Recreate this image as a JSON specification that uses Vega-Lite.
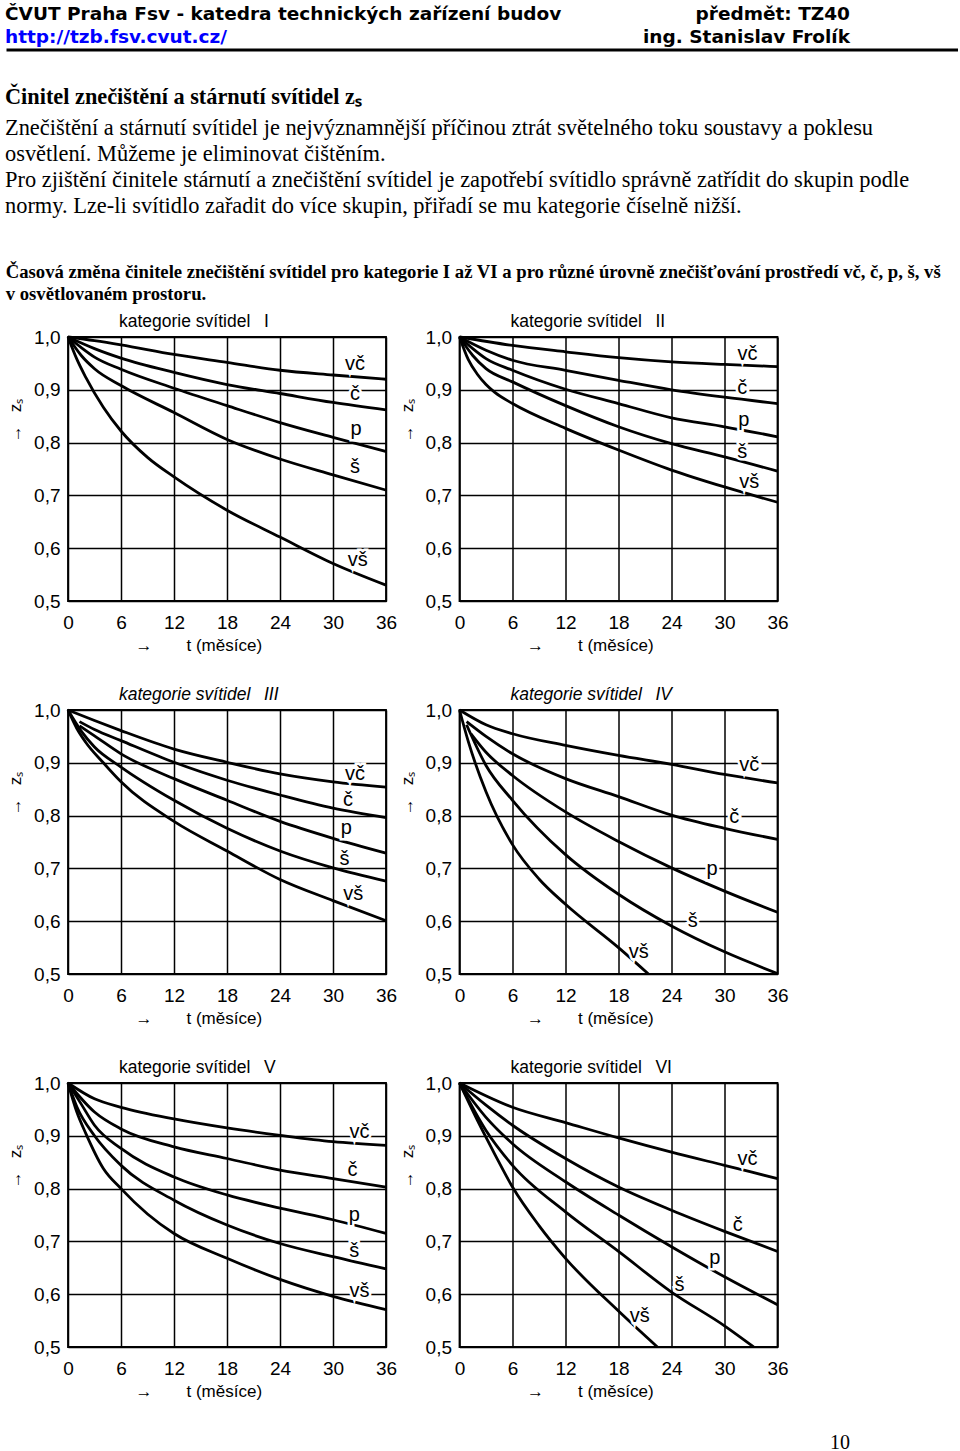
{
  "$schema": "https://vega.github.io/schema/vega-lite/v6.json",
  "background": "white",
  "padding": {"left": 5, "top": 0, "right": 0, "bottom": 0},
  "spacing": 34,
  "align": "none",
  "config": {
    "font": "Liberation Sans",
    "view": {"stroke": "black", "strokeWidth": 1.8},
    "axis": {"grid": true, "gridColor": "black", "gridWidth": 1.5, "gridOpacity": 1, "ticks": false, "tickSize": 0, "domain": false, "labelColor": "black", "labelFontSize": 19, "labelFont": "Liberation Sans", "titleColor": "black", "titleFontSize": 17, "titleFont": "Liberation Sans", "titleFontWeight": "normal", "labelFlush": false, "labelOverlap": false},
    "axisX": {"labelPadding": 12.5, "titlePadding": 5, "titleAnchor": "start", "titleAlign": "left", "titleX": 67},
    "axisY": {"labelPadding": 8, "titlePadding": 9, "titleY": 83}
  },
  "datasets": {
    "banner": [
      {"line": 1, "side": "left", "kind": "plain", "text": "ČVUT Praha Fsv - katedra technických zařízení budov"},
      {"line": 2, "side": "left", "kind": "url", "text": "http://tzb.fsv.cvut.cz/"},
      {"line": 1, "side": "right", "kind": "plain", "text": "předmět: TZ40"},
      {"line": 2, "side": "right", "kind": "plain", "text": "ing. Stanislav Frolík"}
    ],
    "body": [
      {"line": 1, "side": "left", "text": "Znečištění a stárnutí svítidel je nejvýznamnější příčinou ztrát světelného toku soustavy a poklesu"},
      {"line": 2, "side": "left", "text": "osvětlení. Můžeme je eliminovat čištěním."},
      {"line": 3, "side": "left", "text": "Pro zjištění činitele stárnutí a znečištění svítidel je zapotřebí svítidlo správně zatřídit do skupin podle"},
      {"line": 4, "side": "left", "text": "normy. Lze-li svítidlo zařadit do více skupin, přiřadí se mu kategorie číselně nižší."}
    ],
    "zs": [
      {"k":"I","s":"vč","kind":"curve","t":0,"z":1.0},{"k":"I","s":"vč","kind":"curve","t":3,"z":0.993},{"k":"I","s":"vč","kind":"curve","t":6,"z":0.985},{"k":"I","s":"vč","kind":"curve","t":12,"z":0.967},{"k":"I","s":"vč","kind":"curve","t":18,"z":0.952},{"k":"I","s":"vč","kind":"curve","t":24,"z":0.937},{"k":"I","s":"vč","kind":"curve","t":30,"z":0.928},{"k":"I","s":"vč","kind":"curve","t":36,"z":0.92},
      {"k":"I","s":"č","kind":"curve","t":0,"z":1.0},{"k":"I","s":"č","kind":"curve","t":3,"z":0.978},{"k":"I","s":"č","kind":"curve","t":6,"z":0.96},{"k":"I","s":"č","kind":"curve","t":12,"z":0.933},{"k":"I","s":"č","kind":"curve","t":18,"z":0.91},{"k":"I","s":"č","kind":"curve","t":24,"z":0.893},{"k":"I","s":"č","kind":"curve","t":30,"z":0.876},{"k":"I","s":"č","kind":"curve","t":36,"z":0.862},
      {"k":"I","s":"p","kind":"curve","t":0,"z":1.0},{"k":"I","s":"p","kind":"curve","t":1.5,"z":0.98},{"k":"I","s":"p","kind":"curve","t":3,"z":0.962},{"k":"I","s":"p","kind":"curve","t":6,"z":0.939},{"k":"I","s":"p","kind":"curve","t":12,"z":0.903},{"k":"I","s":"p","kind":"curve","t":18,"z":0.87},{"k":"I","s":"p","kind":"curve","t":24,"z":0.838},{"k":"I","s":"p","kind":"curve","t":30,"z":0.81},{"k":"I","s":"p","kind":"curve","t":36,"z":0.783},
      {"k":"I","s":"š","kind":"curve","t":0,"z":1.0},{"k":"I","s":"š","kind":"curve","t":1.5,"z":0.965},{"k":"I","s":"š","kind":"curve","t":3,"z":0.94},{"k":"I","s":"š","kind":"curve","t":6,"z":0.908},{"k":"I","s":"š","kind":"curve","t":12,"z":0.857},{"k":"I","s":"š","kind":"curve","t":18,"z":0.806},{"k":"I","s":"š","kind":"curve","t":24,"z":0.769},{"k":"I","s":"š","kind":"curve","t":30,"z":0.739},{"k":"I","s":"š","kind":"curve","t":36,"z":0.71},
      {"k":"I","s":"vš","kind":"curve","t":0,"z":1.0},{"k":"I","s":"vš","kind":"curve","t":1,"z":0.958},{"k":"I","s":"vš","kind":"curve","t":2,"z":0.924},{"k":"I","s":"vš","kind":"curve","t":4,"z":0.867},{"k":"I","s":"vš","kind":"curve","t":6,"z":0.822},{"k":"I","s":"vš","kind":"curve","t":9,"z":0.772},{"k":"I","s":"vš","kind":"curve","t":12,"z":0.735},{"k":"I","s":"vš","kind":"curve","t":18,"z":0.672},{"k":"I","s":"vš","kind":"curve","t":24,"z":0.621},{"k":"I","s":"vš","kind":"curve","t":30,"z":0.571},{"k":"I","s":"vš","kind":"curve","t":36,"z":0.53},
      {"k":"I","s":"vč","kind":"label","t":32.5,"z":0.948},{"k":"I","s":"č","kind":"label","t":32.5,"z":0.892},{"k":"I","s":"p","kind":"label","t":32.6,"z":0.826},{"k":"I","s":"š","kind":"label","t":32.5,"z":0.753},{"k":"I","s":"vš","kind":"label","t":32.8,"z":0.577},

      {"k":"II","s":"vč","kind":"curve","t":0,"z":1.0},{"k":"II","s":"vč","kind":"curve","t":6,"z":0.984},{"k":"II","s":"vč","kind":"curve","t":12,"z":0.972},{"k":"II","s":"vč","kind":"curve","t":18,"z":0.961},{"k":"II","s":"vč","kind":"curve","t":24,"z":0.953},{"k":"II","s":"vč","kind":"curve","t":30,"z":0.948},{"k":"II","s":"vč","kind":"curve","t":36,"z":0.944},
      {"k":"II","s":"č","kind":"curve","t":0,"z":1.0},{"k":"II","s":"č","kind":"curve","t":3,"z":0.975},{"k":"II","s":"č","kind":"curve","t":6,"z":0.956},{"k":"II","s":"č","kind":"curve","t":12,"z":0.937},{"k":"II","s":"č","kind":"curve","t":18,"z":0.918},{"k":"II","s":"č","kind":"curve","t":24,"z":0.9},{"k":"II","s":"č","kind":"curve","t":30,"z":0.886},{"k":"II","s":"č","kind":"curve","t":36,"z":0.874},
      {"k":"II","s":"p","kind":"curve","t":0,"z":1.0},{"k":"II","s":"p","kind":"curve","t":1.5,"z":0.978},{"k":"II","s":"p","kind":"curve","t":3,"z":0.959},{"k":"II","s":"p","kind":"curve","t":6,"z":0.937},{"k":"II","s":"p","kind":"curve","t":12,"z":0.901},{"k":"II","s":"p","kind":"curve","t":18,"z":0.874},{"k":"II","s":"p","kind":"curve","t":24,"z":0.847},{"k":"II","s":"p","kind":"curve","t":30,"z":0.83},{"k":"II","s":"p","kind":"curve","t":36,"z":0.811},
      {"k":"II","s":"š","kind":"curve","t":0,"z":1.0},{"k":"II","s":"š","kind":"curve","t":1.5,"z":0.965},{"k":"II","s":"š","kind":"curve","t":3,"z":0.94},{"k":"II","s":"š","kind":"curve","t":6,"z":0.915},{"k":"II","s":"š","kind":"curve","t":12,"z":0.87},{"k":"II","s":"š","kind":"curve","t":18,"z":0.83},{"k":"II","s":"š","kind":"curve","t":24,"z":0.798},{"k":"II","s":"š","kind":"curve","t":30,"z":0.773},{"k":"II","s":"š","kind":"curve","t":36,"z":0.746},
      {"k":"II","s":"vš","kind":"curve","t":0,"z":1.0},{"k":"II","s":"vš","kind":"curve","t":1,"z":0.957},{"k":"II","s":"vš","kind":"curve","t":2,"z":0.93},{"k":"II","s":"vš","kind":"curve","t":3,"z":0.91},{"k":"II","s":"vš","kind":"curve","t":4,"z":0.895},{"k":"II","s":"vš","kind":"curve","t":6,"z":0.874},{"k":"II","s":"vš","kind":"curve","t":12,"z":0.827},{"k":"II","s":"vš","kind":"curve","t":18,"z":0.786},{"k":"II","s":"vš","kind":"curve","t":24,"z":0.748},{"k":"II","s":"vš","kind":"curve","t":30,"z":0.716},{"k":"II","s":"vš","kind":"curve","t":36,"z":0.687},
      {"k":"II","s":"vč","kind":"label","t":32.6,"z":0.968},{"k":"II","s":"č","kind":"label","t":32.0,"z":0.904},{"k":"II","s":"p","kind":"label","t":32.2,"z":0.842},{"k":"II","s":"š","kind":"label","t":32.0,"z":0.782},{"k":"II","s":"vš","kind":"label","t":32.8,"z":0.726},

      {"k":"III","s":"vč","kind":"curve","t":0,"z":1.0},{"k":"III","s":"vč","kind":"curve","t":3,"z":0.98},{"k":"III","s":"vč","kind":"curve","t":6,"z":0.961},{"k":"III","s":"vč","kind":"curve","t":12,"z":0.926},{"k":"III","s":"vč","kind":"curve","t":18,"z":0.901},{"k":"III","s":"vč","kind":"curve","t":24,"z":0.879},{"k":"III","s":"vč","kind":"curve","t":30,"z":0.864},{"k":"III","s":"vč","kind":"curve","t":36,"z":0.854},
      {"k":"III","s":"č","kind":"curve","t":1.3,"z":0.978},{"k":"III","s":"č","kind":"curve","t":3,"z":0.963},{"k":"III","s":"č","kind":"curve","t":6,"z":0.942},{"k":"III","s":"č","kind":"curve","t":12,"z":0.901},{"k":"III","s":"č","kind":"curve","t":18,"z":0.867},{"k":"III","s":"č","kind":"curve","t":24,"z":0.839},{"k":"III","s":"č","kind":"curve","t":30,"z":0.814},{"k":"III","s":"č","kind":"curve","t":36,"z":0.796},
      {"k":"III","s":"p","kind":"curve","t":1.3,"z":0.97},{"k":"III","s":"p","kind":"curve","t":3,"z":0.951},{"k":"III","s":"p","kind":"curve","t":6,"z":0.917},{"k":"III","s":"p","kind":"curve","t":12,"z":0.87},{"k":"III","s":"p","kind":"curve","t":18,"z":0.829},{"k":"III","s":"p","kind":"curve","t":24,"z":0.789},{"k":"III","s":"p","kind":"curve","t":30,"z":0.757},{"k":"III","s":"p","kind":"curve","t":36,"z":0.729},
      {"k":"III","s":"š","kind":"curve","t":0,"z":1.0},{"k":"III","s":"š","kind":"curve","t":1.5,"z":0.96},{"k":"III","s":"š","kind":"curve","t":3,"z":0.93},{"k":"III","s":"š","kind":"curve","t":6,"z":0.892},{"k":"III","s":"š","kind":"curve","t":12,"z":0.829},{"k":"III","s":"š","kind":"curve","t":18,"z":0.776},{"k":"III","s":"š","kind":"curve","t":24,"z":0.733},{"k":"III","s":"š","kind":"curve","t":30,"z":0.701},{"k":"III","s":"š","kind":"curve","t":36,"z":0.676},
      {"k":"III","s":"vš","kind":"curve","t":0,"z":1.0},{"k":"III","s":"vš","kind":"curve","t":1,"z":0.965},{"k":"III","s":"vš","kind":"curve","t":2,"z":0.939},{"k":"III","s":"vš","kind":"curve","t":4,"z":0.9},{"k":"III","s":"vš","kind":"curve","t":6,"z":0.864},{"k":"III","s":"vš","kind":"curve","t":12,"z":0.789},{"k":"III","s":"vš","kind":"curve","t":18,"z":0.733},{"k":"III","s":"vš","kind":"curve","t":24,"z":0.679},{"k":"III","s":"vš","kind":"curve","t":30,"z":0.639},{"k":"III","s":"vš","kind":"curve","t":36,"z":0.601},
      {"k":"III","s":"vč","kind":"label","t":32.5,"z":0.879},{"k":"III","s":"č","kind":"label","t":31.7,"z":0.829},{"k":"III","s":"p","kind":"label","t":31.5,"z":0.776},{"k":"III","s":"š","kind":"label","t":31.3,"z":0.717},{"k":"III","s":"vš","kind":"label","t":32.3,"z":0.651},

      {"k":"IV","s":"vč","kind":"curve","t":0,"z":1.0},{"k":"IV","s":"vč","kind":"curve","t":3,"z":0.972},{"k":"IV","s":"vč","kind":"curve","t":6,"z":0.955},{"k":"IV","s":"vč","kind":"curve","t":12,"z":0.933},{"k":"IV","s":"vč","kind":"curve","t":18,"z":0.914},{"k":"IV","s":"vč","kind":"curve","t":24,"z":0.897},{"k":"IV","s":"vč","kind":"curve","t":30,"z":0.878},{"k":"IV","s":"vč","kind":"curve","t":36,"z":0.862},
      {"k":"IV","s":"č","kind":"curve","t":0.8,"z":0.978},{"k":"IV","s":"č","kind":"curve","t":3,"z":0.95},{"k":"IV","s":"č","kind":"curve","t":6,"z":0.917},{"k":"IV","s":"č","kind":"curve","t":12,"z":0.87},{"k":"IV","s":"č","kind":"curve","t":18,"z":0.836},{"k":"IV","s":"č","kind":"curve","t":24,"z":0.801},{"k":"IV","s":"č","kind":"curve","t":30,"z":0.776},{"k":"IV","s":"č","kind":"curve","t":36,"z":0.755},
      {"k":"IV","s":"p","kind":"curve","t":1.3,"z":0.955},{"k":"IV","s":"p","kind":"curve","t":3,"z":0.92},{"k":"IV","s":"p","kind":"curve","t":6,"z":0.876},{"k":"IV","s":"p","kind":"curve","t":12,"z":0.807},{"k":"IV","s":"p","kind":"curve","t":18,"z":0.751},{"k":"IV","s":"p","kind":"curve","t":24,"z":0.701},{"k":"IV","s":"p","kind":"curve","t":30,"z":0.657},{"k":"IV","s":"p","kind":"curve","t":36,"z":0.617},
      {"k":"IV","s":"š","kind":"curve","t":0.8,"z":0.972},{"k":"IV","s":"š","kind":"curve","t":3,"z":0.895},{"k":"IV","s":"š","kind":"curve","t":6,"z":0.829},{"k":"IV","s":"š","kind":"curve","t":12,"z":0.726},{"k":"IV","s":"š","kind":"curve","t":18,"z":0.651},{"k":"IV","s":"š","kind":"curve","t":24,"z":0.591},{"k":"IV","s":"š","kind":"curve","t":30,"z":0.542},{"k":"IV","s":"š","kind":"curve","t":36,"z":0.501},
      {"k":"IV","s":"vš","kind":"curve","t":0,"z":1.0},{"k":"IV","s":"vš","kind":"curve","t":1,"z":0.94},{"k":"IV","s":"vš","kind":"curve","t":3,"z":0.845},{"k":"IV","s":"vš","kind":"curve","t":6,"z":0.745},{"k":"IV","s":"vš","kind":"curve","t":9,"z":0.68},{"k":"IV","s":"vš","kind":"curve","t":12,"z":0.632},{"k":"IV","s":"vš","kind":"curve","t":18,"z":0.55},{"k":"IV","s":"vš","kind":"curve","t":21.4,"z":0.5},
      {"k":"IV","s":"vč","kind":"label","t":32.8,"z":0.896},{"k":"IV","s":"č","kind":"label","t":31.1,"z":0.798},{"k":"IV","s":"p","kind":"label","t":28.6,"z":0.698},{"k":"IV","s":"š","kind":"label","t":26.4,"z":0.6},{"k":"IV","s":"vš","kind":"label","t":20.3,"z":0.541},

      {"k":"V","s":"vč","kind":"curve","t":0,"z":1.0},{"k":"V","s":"vč","kind":"curve","t":3,"z":0.97},{"k":"V","s":"vč","kind":"curve","t":6,"z":0.954},{"k":"V","s":"vč","kind":"curve","t":12,"z":0.932},{"k":"V","s":"vč","kind":"curve","t":18,"z":0.915},{"k":"V","s":"vč","kind":"curve","t":24,"z":0.901},{"k":"V","s":"vč","kind":"curve","t":30,"z":0.889},{"k":"V","s":"vč","kind":"curve","t":36,"z":0.882},
      {"k":"V","s":"č","kind":"curve","t":0,"z":1.0},{"k":"V","s":"č","kind":"curve","t":3,"z":0.945},{"k":"V","s":"č","kind":"curve","t":6,"z":0.913},{"k":"V","s":"č","kind":"curve","t":12,"z":0.879},{"k":"V","s":"č","kind":"curve","t":18,"z":0.857},{"k":"V","s":"č","kind":"curve","t":24,"z":0.835},{"k":"V","s":"č","kind":"curve","t":30,"z":0.819},{"k":"V","s":"č","kind":"curve","t":36,"z":0.803},
      {"k":"V","s":"p","kind":"curve","t":0,"z":1.0},{"k":"V","s":"p","kind":"curve","t":1.5,"z":0.96},{"k":"V","s":"p","kind":"curve","t":3,"z":0.92},{"k":"V","s":"p","kind":"curve","t":6,"z":0.876},{"k":"V","s":"p","kind":"curve","t":12,"z":0.822},{"k":"V","s":"p","kind":"curve","t":18,"z":0.788},{"k":"V","s":"p","kind":"curve","t":24,"z":0.763},{"k":"V","s":"p","kind":"curve","t":30,"z":0.741},{"k":"V","s":"p","kind":"curve","t":36,"z":0.715},
      {"k":"V","s":"š","kind":"curve","t":0,"z":1.0},{"k":"V","s":"š","kind":"curve","t":1,"z":0.955},{"k":"V","s":"š","kind":"curve","t":3,"z":0.9},{"k":"V","s":"š","kind":"curve","t":6,"z":0.844},{"k":"V","s":"š","kind":"curve","t":12,"z":0.778},{"k":"V","s":"š","kind":"curve","t":18,"z":0.731},{"k":"V","s":"š","kind":"curve","t":24,"z":0.696},{"k":"V","s":"š","kind":"curve","t":30,"z":0.671},{"k":"V","s":"š","kind":"curve","t":36,"z":0.648},
      {"k":"V","s":"vš","kind":"curve","t":0,"z":1.0},{"k":"V","s":"vš","kind":"curve","t":1,"z":0.945},{"k":"V","s":"vš","kind":"curve","t":2,"z":0.905},{"k":"V","s":"vš","kind":"curve","t":4,"z":0.838},{"k":"V","s":"vš","kind":"curve","t":6,"z":0.8},{"k":"V","s":"vš","kind":"curve","t":9,"z":0.752},{"k":"V","s":"vš","kind":"curve","t":12,"z":0.715},{"k":"V","s":"vš","kind":"curve","t":18,"z":0.668},{"k":"V","s":"vš","kind":"curve","t":24,"z":0.628},{"k":"V","s":"vš","kind":"curve","t":30,"z":0.596},{"k":"V","s":"vš","kind":"curve","t":36,"z":0.571},
      {"k":"V","s":"vč","kind":"label","t":33.0,"z":0.907},{"k":"V","s":"č","kind":"label","t":32.2,"z":0.835},{"k":"V","s":"p","kind":"label","t":32.4,"z":0.75},{"k":"V","s":"š","kind":"label","t":32.4,"z":0.681},{"k":"V","s":"vš","kind":"label","t":33.0,"z":0.606},

      {"k":"VI","s":"vč","kind":"curve","t":0,"z":1.0},{"k":"VI","s":"vč","kind":"curve","t":6,"z":0.954},{"k":"VI","s":"vč","kind":"curve","t":12,"z":0.925},{"k":"VI","s":"vč","kind":"curve","t":18,"z":0.896},{"k":"VI","s":"vč","kind":"curve","t":24,"z":0.869},{"k":"VI","s":"vč","kind":"curve","t":30,"z":0.844},{"k":"VI","s":"vč","kind":"curve","t":36,"z":0.819},
      {"k":"VI","s":"č","kind":"curve","t":0,"z":1.0},{"k":"VI","s":"č","kind":"curve","t":3,"z":0.958},{"k":"VI","s":"č","kind":"curve","t":6,"z":0.92},{"k":"VI","s":"č","kind":"curve","t":12,"z":0.857},{"k":"VI","s":"č","kind":"curve","t":18,"z":0.803},{"k":"VI","s":"č","kind":"curve","t":24,"z":0.759},{"k":"VI","s":"č","kind":"curve","t":30,"z":0.719},{"k":"VI","s":"č","kind":"curve","t":36,"z":0.681},
      {"k":"VI","s":"p","kind":"curve","t":0,"z":1.0},{"k":"VI","s":"p","kind":"curve","t":3,"z":0.935},{"k":"VI","s":"p","kind":"curve","t":6,"z":0.885},{"k":"VI","s":"p","kind":"curve","t":12,"z":0.813},{"k":"VI","s":"p","kind":"curve","t":18,"z":0.75},{"k":"VI","s":"p","kind":"curve","t":24,"z":0.69},{"k":"VI","s":"p","kind":"curve","t":30,"z":0.633},{"k":"VI","s":"p","kind":"curve","t":36,"z":0.58},
      {"k":"VI","s":"š","kind":"curve","t":0,"z":1.0},{"k":"VI","s":"š","kind":"curve","t":3,"z":0.91},{"k":"VI","s":"š","kind":"curve","t":6,"z":0.844},{"k":"VI","s":"š","kind":"curve","t":12,"z":0.756},{"k":"VI","s":"š","kind":"curve","t":18,"z":0.681},{"k":"VI","s":"š","kind":"curve","t":24,"z":0.604},{"k":"VI","s":"š","kind":"curve","t":30,"z":0.54},{"k":"VI","s":"š","kind":"curve","t":33.3,"z":0.5},
      {"k":"VI","s":"vš","kind":"curve","t":0,"z":1.0},{"k":"VI","s":"vš","kind":"curve","t":2,"z":0.93},{"k":"VI","s":"vš","kind":"curve","t":4,"z":0.865},{"k":"VI","s":"vš","kind":"curve","t":6,"z":0.803},{"k":"VI","s":"vš","kind":"curve","t":9,"z":0.73},{"k":"VI","s":"vš","kind":"curve","t":12,"z":0.668},{"k":"VI","s":"vš","kind":"curve","t":18,"z":0.568},{"k":"VI","s":"vš","kind":"curve","t":22.4,"z":0.5},
      {"k":"VI","s":"vč","kind":"label","t":32.6,"z":0.857},{"k":"VI","s":"č","kind":"label","t":31.5,"z":0.731},{"k":"VI","s":"p","kind":"label","t":28.9,"z":0.668},{"k":"VI","s":"š","kind":"label","t":24.9,"z":0.618},{"k":"VI","s":"vš","kind":"label","t":20.4,"z":0.558}
    ]
  },
  "vconcat": [
    {
      "width": 890, "height": 50,
      "view": {"stroke": null},
      "resolve": {"scale": {"x": "independent"}},
      "layer": [
        {
          "layer": [
            {"data": {"name": "banner"}, "transform": [{"filter": "datum.side === 'left' && datum.kind === 'plain'"}], "mark": {"type": "text", "align": "left", "baseline": "alphabetic", "font": "DejaVu Sans", "fontWeight": "bold", "fontSize": 18.5, "color": "black"},
              "encoding": {
                "x": {"field": "side", "type": "nominal", "scale": {"type": "point", "domain": ["left", "right"], "range": [-63, 782], "padding": 0}, "axis": null},
                "y": {"field": "line", "type": "ordinal", "scale": {"type": "point", "domain": [1, 2], "range": [20, 43], "padding": 0}, "axis": null},
                "text": {"field": "text"}
              }},
            {"data": {"name": "banner"}, "transform": [{"filter": "datum.kind === 'url'"}], "mark": {"type": "text", "align": "left", "baseline": "alphabetic", "font": "DejaVu Sans", "fontWeight": "bold", "fontSize": 18.5, "color": "#0000ff"},
              "encoding": {
                "x": {"field": "side", "type": "nominal", "scale": {"type": "point", "domain": ["left", "right"], "range": [-63, 782], "padding": 0}, "axis": null},
                "y": {"field": "line", "type": "ordinal", "scale": {"type": "point", "domain": [1, 2], "range": [20, 43], "padding": 0}, "axis": null},
                "text": {"field": "text"}
              }},
            {"data": {"name": "banner"}, "transform": [{"filter": "datum.side === 'right'"}], "mark": {"type": "text", "align": "right", "baseline": "alphabetic", "font": "DejaVu Sans", "fontWeight": "bold", "fontSize": 18.5, "color": "black"},
              "encoding": {
                "x": {"field": "side", "type": "nominal", "scale": {"type": "point", "domain": ["left", "right"], "range": [-63, 782], "padding": 0}, "axis": null},
                "y": {"field": "line", "type": "ordinal", "scale": {"type": "point", "domain": [1, 2], "range": [20, 43], "padding": 0}, "axis": null},
                "text": {"field": "text"}
              }}
          ]
        },
        {"data": {"values": [{"side": "left"}]}, "mark": {"type": "rule", "strokeWidth": 3, "color": "black"},
          "encoding": {
            "x": {"field": "side", "type": "nominal", "scale": {"type": "point", "domain": ["left", "right"], "range": [-61.5, 782], "padding": 0}, "axis": null},
            "x2": {"value": "width"},
            "y": {"value": "height"}
          }}
      ]
    },
    {
      "title": {"text": "Činitel znečištění a stárnutí svítidel zₛ", "anchor": "start", "frame": "group", "dx": -63, "offset": 8, "font": "Liberation Serif", "fontSize": 22.3, "fontWeight": "bold", "color": "black"},
      "width": 890, "height": 110,
      "view": {"stroke": null},
      "data": {"name": "body"},
      "mark": {"type": "text", "align": "left", "baseline": "middle", "font": "Liberation Serif", "fontSize": 22.4, "color": "black"},
      "encoding": {
        "x": {"field": "side", "type": "nominal", "scale": {"type": "point", "domain": ["left", "right"], "range": [-63, 782], "padding": 0}, "axis": null},
        "y": {"field": "line", "type": "ordinal", "scale": {"type": "point", "domain": [1, 2, 3, 4], "range": [9.5, 87.5], "padding": 0}, "axis": null},
        "text": {"field": "text"}
      }
    },
    {
      "title": {"text": ["Časová změna činitele znečištění svítidel pro kategorie I až VI a pro různé úrovně znečišťování prostředí vč, č, p, š, vš", "v osvětlovaném prostoru."], "anchor": "start", "frame": "bounds", "dx": 0, "offset": 8, "font": "Liberation Serif", "fontSize": 18.7, "fontWeight": "bold", "lineHeight": 22, "color": "black"},
      "spacing": 29,
      "vconcat": [
        {
          "spacing": -1.5,
          "hconcat": [
            {
              "width": 318, "height": 264,
              "title": {"text": "kategorie svítidel\u2002 I", "anchor": "start", "frame": "group", "dx": 51, "offset": -2, "font": "Liberation Sans", "fontSize": 17.5, "fontWeight": "normal", "color": "black"},
              "data": {"name": "zs"},
              "transform": [{"filter": "datum.k === 'I'"}],
              "encoding": {
                "x": {"field": "t", "type": "quantitative", "scale": {"domain": [0, 36], "nice": false, "zero": false}, "axis": {"values": [0, 6, 12, 18, 24, 30, 36], "title": "→\u2003\u2003t (měsíce)"}},
                "y": {"field": "z", "type": "quantitative", "scale": {"domain": [0.5, 1], "nice": false, "zero": false}, "axis": {"values": [0.5, 0.6, 0.7, 0.8, 0.9, 1.0], "labelExpr": "replace(format(datum.value, '.1f'), '.', ',')", "title": "→\u2002 zₛ"}}
              },
              "layer": [
                {"transform": [{"filter": "datum.kind === 'curve'"}], "mark": {"type": "line", "interpolate": "monotone", "color": "black", "strokeWidth": 2.8}, "encoding": {"detail": {"field": "s"}}},
                {"transform": [{"filter": "datum.kind === 'label'"}], "mark": {"type": "text", "fontSize": 20, "color": "white", "stroke": "white", "strokeWidth": 5}, "encoding": {"text": {"field": "s"}}},
                {"transform": [{"filter": "datum.kind === 'label'"}], "mark": {"type": "text", "fontSize": 20, "color": "black"}, "encoding": {"text": {"field": "s"}}}
              ]
            },
            {
              "width": 318, "height": 264,
              "title": {"text": "kategorie svítidel\u2002 II", "anchor": "start", "frame": "group", "dx": 51, "offset": -2, "font": "Liberation Sans", "fontSize": 17.5, "fontWeight": "normal", "color": "black"},
              "data": {"name": "zs"},
              "transform": [{"filter": "datum.k === 'II'"}],
              "encoding": {
                "x": {"field": "t", "type": "quantitative", "scale": {"domain": [0, 36], "nice": false, "zero": false}, "axis": {"values": [0, 6, 12, 18, 24, 30, 36], "title": "→\u2003\u2003t (měsíce)"}},
                "y": {"field": "z", "type": "quantitative", "scale": {"domain": [0.5, 1], "nice": false, "zero": false}, "axis": {"values": [0.5, 0.6, 0.7, 0.8, 0.9, 1.0], "labelExpr": "replace(format(datum.value, '.1f'), '.', ',')", "title": "→\u2002 zₛ"}}
              },
              "layer": [
                {"transform": [{"filter": "datum.kind === 'curve'"}], "mark": {"type": "line", "interpolate": "monotone", "color": "black", "strokeWidth": 2.8}, "encoding": {"detail": {"field": "s"}}},
                {"transform": [{"filter": "datum.kind === 'label'"}], "mark": {"type": "text", "fontSize": 20, "color": "white", "stroke": "white", "strokeWidth": 5}, "encoding": {"text": {"field": "s"}}},
                {"transform": [{"filter": "datum.kind === 'label'"}], "mark": {"type": "text", "fontSize": 20, "color": "black"}, "encoding": {"text": {"field": "s"}}}
              ]
            }
          ]
        },
        {
          "spacing": -1.5,
          "hconcat": [
            {
              "width": 318, "height": 264,
              "title": {"text": "kategorie svítidel\u2002 III", "anchor": "start", "frame": "group", "dx": 51, "offset": -2, "font": "Liberation Sans", "fontSize": 17.5, "fontWeight": "normal", "fontStyle": "italic", "color": "black"},
              "data": {"name": "zs"},
              "transform": [{"filter": "datum.k === 'III'"}],
              "encoding": {
                "x": {"field": "t", "type": "quantitative", "scale": {"domain": [0, 36], "nice": false, "zero": false}, "axis": {"values": [0, 6, 12, 18, 24, 30, 36], "title": "→\u2003\u2003t (měsíce)"}},
                "y": {"field": "z", "type": "quantitative", "scale": {"domain": [0.5, 1], "nice": false, "zero": false}, "axis": {"values": [0.5, 0.6, 0.7, 0.8, 0.9, 1.0], "labelExpr": "replace(format(datum.value, '.1f'), '.', ',')", "title": "→\u2002 zₛ"}}
              },
              "layer": [
                {"transform": [{"filter": "datum.kind === 'curve'"}], "mark": {"type": "line", "interpolate": "monotone", "color": "black", "strokeWidth": 2.8}, "encoding": {"detail": {"field": "s"}}},
                {"transform": [{"filter": "datum.kind === 'label'"}], "mark": {"type": "text", "fontSize": 20, "color": "white", "stroke": "white", "strokeWidth": 5}, "encoding": {"text": {"field": "s"}}},
                {"transform": [{"filter": "datum.kind === 'label'"}], "mark": {"type": "text", "fontSize": 20, "color": "black"}, "encoding": {"text": {"field": "s"}}}
              ]
            },
            {
              "width": 318, "height": 264,
              "title": {"text": "kategorie svítidel\u2002 IV", "anchor": "start", "frame": "group", "dx": 51, "offset": -2, "font": "Liberation Sans", "fontSize": 17.5, "fontWeight": "normal", "fontStyle": "italic", "color": "black"},
              "data": {"name": "zs"},
              "transform": [{"filter": "datum.k === 'IV'"}],
              "encoding": {
                "x": {"field": "t", "type": "quantitative", "scale": {"domain": [0, 36], "nice": false, "zero": false}, "axis": {"values": [0, 6, 12, 18, 24, 30, 36], "title": "→\u2003\u2003t (měsíce)"}},
                "y": {"field": "z", "type": "quantitative", "scale": {"domain": [0.5, 1], "nice": false, "zero": false}, "axis": {"values": [0.5, 0.6, 0.7, 0.8, 0.9, 1.0], "labelExpr": "replace(format(datum.value, '.1f'), '.', ',')", "title": "→\u2002 zₛ"}}
              },
              "layer": [
                {"transform": [{"filter": "datum.kind === 'curve'"}], "mark": {"type": "line", "interpolate": "monotone", "color": "black", "strokeWidth": 2.8}, "encoding": {"detail": {"field": "s"}}},
                {"transform": [{"filter": "datum.kind === 'label'"}], "mark": {"type": "text", "fontSize": 20, "color": "white", "stroke": "white", "strokeWidth": 5}, "encoding": {"text": {"field": "s"}}},
                {"transform": [{"filter": "datum.kind === 'label'"}], "mark": {"type": "text", "fontSize": 20, "color": "black"}, "encoding": {"text": {"field": "s"}}}
              ]
            }
          ]
        },
        {
          "spacing": -1.5,
          "hconcat": [
            {
              "width": 318, "height": 264,
              "title": {"text": "kategorie svítidel\u2002 V", "anchor": "start", "frame": "group", "dx": 51, "offset": -2, "font": "Liberation Sans", "fontSize": 17.5, "fontWeight": "normal", "color": "black"},
              "data": {"name": "zs"},
              "transform": [{"filter": "datum.k === 'V'"}],
              "encoding": {
                "x": {"field": "t", "type": "quantitative", "scale": {"domain": [0, 36], "nice": false, "zero": false}, "axis": {"values": [0, 6, 12, 18, 24, 30, 36], "title": "→\u2003\u2003t (měsíce)"}},
                "y": {"field": "z", "type": "quantitative", "scale": {"domain": [0.5, 1], "nice": false, "zero": false}, "axis": {"values": [0.5, 0.6, 0.7, 0.8, 0.9, 1.0], "labelExpr": "replace(format(datum.value, '.1f'), '.', ',')", "title": "→\u2002 zₛ"}}
              },
              "layer": [
                {"transform": [{"filter": "datum.kind === 'curve'"}], "mark": {"type": "line", "interpolate": "monotone", "color": "black", "strokeWidth": 2.8}, "encoding": {"detail": {"field": "s"}}},
                {"transform": [{"filter": "datum.kind === 'label'"}], "mark": {"type": "text", "fontSize": 20, "color": "white", "stroke": "white", "strokeWidth": 5}, "encoding": {"text": {"field": "s"}}},
                {"transform": [{"filter": "datum.kind === 'label'"}], "mark": {"type": "text", "fontSize": 20, "color": "black"}, "encoding": {"text": {"field": "s"}}}
              ]
            },
            {
              "width": 318, "height": 264,
              "title": {"text": "kategorie svítidel\u2002 VI", "anchor": "start", "frame": "group", "dx": 51, "offset": -2, "font": "Liberation Sans", "fontSize": 17.5, "fontWeight": "normal", "color": "black"},
              "data": {"name": "zs"},
              "transform": [{"filter": "datum.k === 'VI'"}],
              "encoding": {
                "x": {"field": "t", "type": "quantitative", "scale": {"domain": [0, 36], "nice": false, "zero": false}, "axis": {"values": [0, 6, 12, 18, 24, 30, 36], "title": "→\u2003\u2003t (měsíce)"}},
                "y": {"field": "z", "type": "quantitative", "scale": {"domain": [0.5, 1], "nice": false, "zero": false}, "axis": {"values": [0.5, 0.6, 0.7, 0.8, 0.9, 1.0], "labelExpr": "replace(format(datum.value, '.1f'), '.', ',')", "title": "→\u2002 zₛ"}}
              },
              "layer": [
                {"transform": [{"filter": "datum.kind === 'curve'"}], "mark": {"type": "line", "interpolate": "monotone", "color": "black", "strokeWidth": 2.8}, "encoding": {"detail": {"field": "s"}}},
                {"transform": [{"filter": "datum.kind === 'label'"}], "mark": {"type": "text", "fontSize": 20, "color": "white", "stroke": "white", "strokeWidth": 5}, "encoding": {"text": {"field": "s"}}},
                {"transform": [{"filter": "datum.kind === 'label'"}], "mark": {"type": "text", "fontSize": 20, "color": "black"}, "encoding": {"text": {"field": "s"}}}
              ]
            }
          ]
        },
        {
          "width": 782, "height": 26,
          "view": {"stroke": null},
          "data": {"values": [{"side": "right", "text": "10"}]},
          "mark": {"type": "text", "align": "right", "baseline": "middle", "font": "Liberation Serif", "fontSize": 20, "color": "black"},
          "encoding": {
            "x": {"field": "side", "type": "nominal", "scale": {"type": "point", "domain": ["left", "right"], "range": [0, 782], "padding": 0}, "axis": null},
            "text": {"field": "text"}
          }
        }
      ]
    }
  ]
}
